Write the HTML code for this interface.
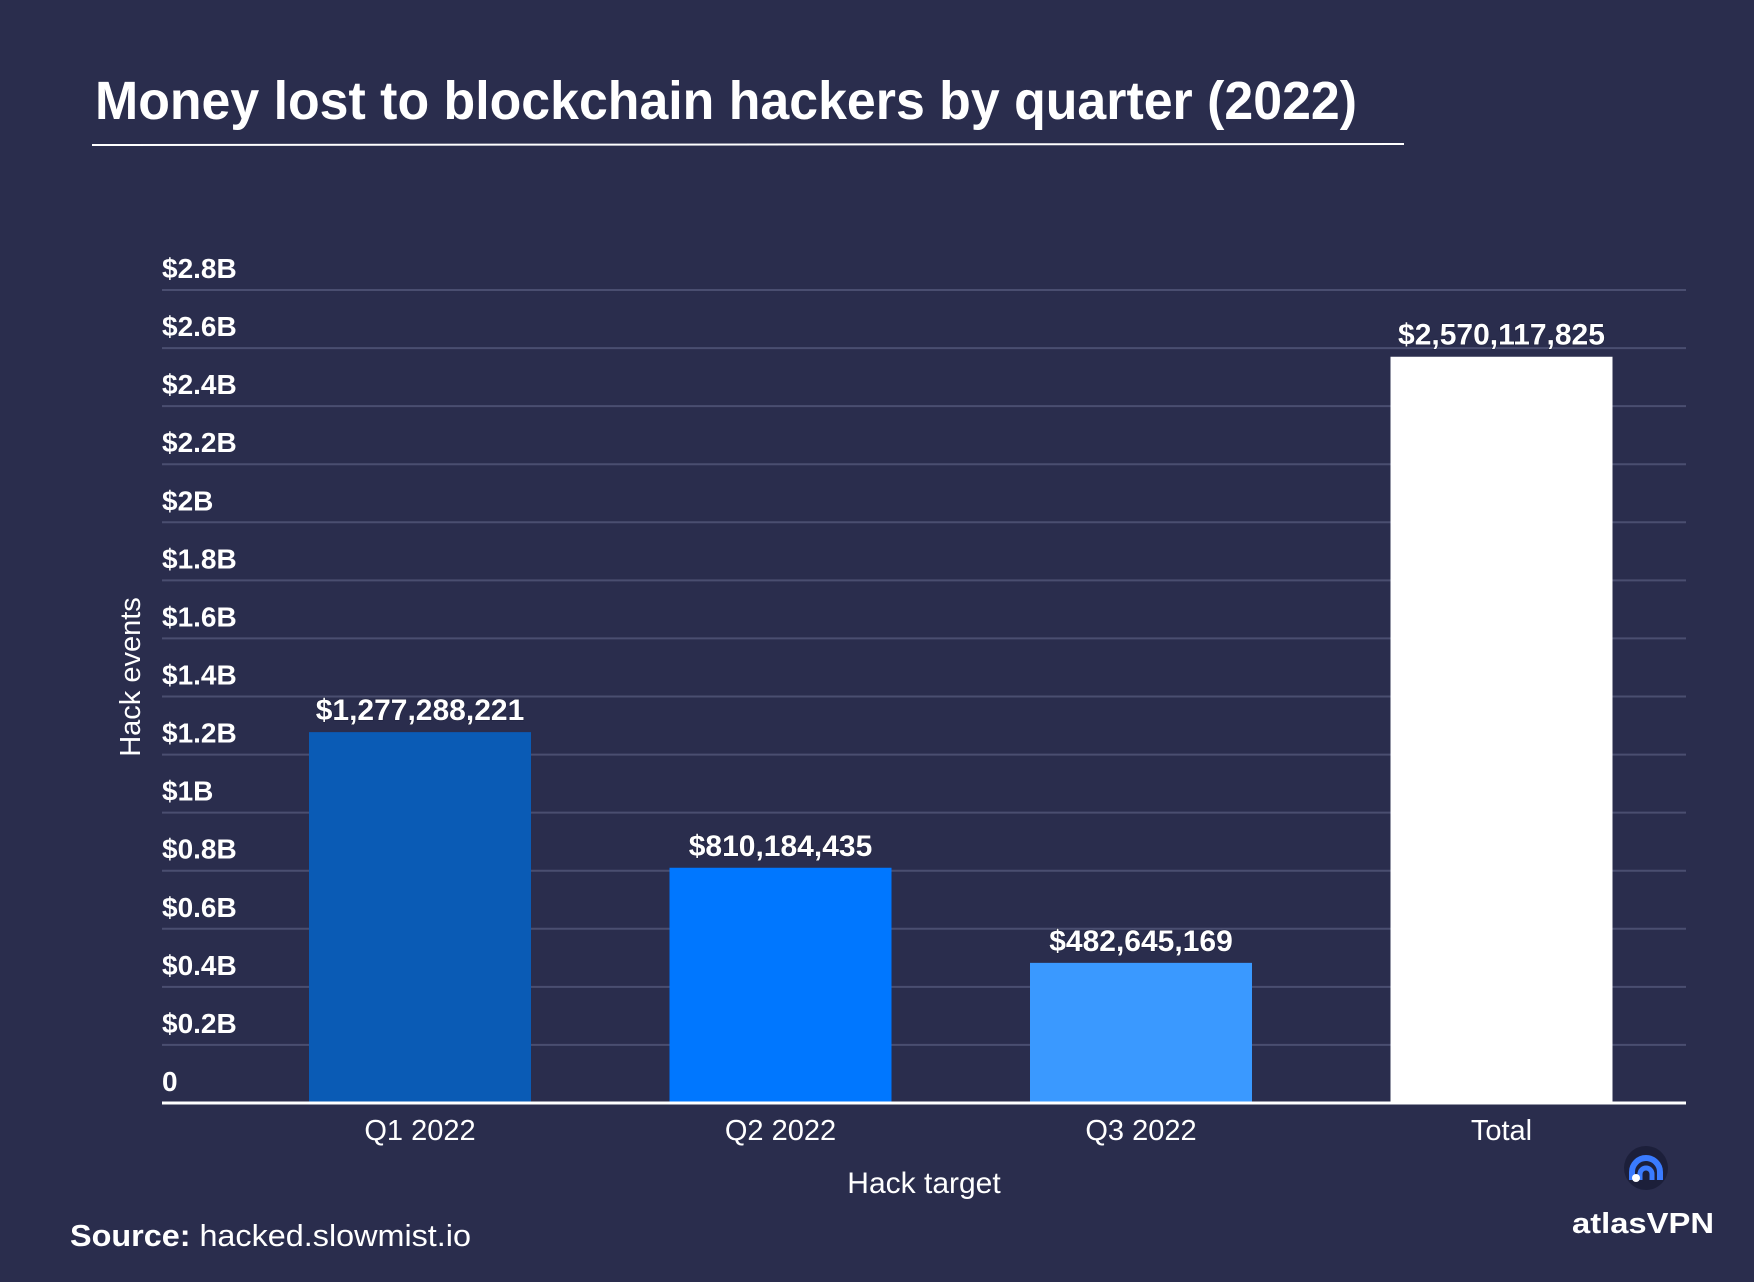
<!DOCTYPE html>
<html><head><meta charset="utf-8"><style>
html,body{margin:0;padding:0;background:#2a2d4d;}
svg{display:block;font-family:"Liberation Sans",sans-serif;}
</style></head><body>
<svg id="chart" width="1754" height="1282" viewBox="0 0 1754 1282">
<rect width="1754" height="1282" fill="#2a2d4d"/>
<text x="95" y="119" fill="#fff" font-size="54" font-weight="bold" textLength="1262" lengthAdjust="spacingAndGlyphs">Money lost to blockchain hackers by quarter (2022)</text>
<line x1="92" y1="145" x2="1404" y2="144" stroke="#fff" stroke-width="2"/>
<g id="grid"></g><g id="bars"></g>
<line x1="162" y1="1103" x2="1686" y2="1103" stroke="#fff" stroke-width="3"/>
<text transform="translate(140,677) rotate(-90)" text-anchor="middle" fill="#fff" font-size="29">Hack events</text>
<text x="924" y="1193" text-anchor="middle" fill="#fff" font-size="30">Hack target</text>
<text x="70" y="1246" fill="#fff" font-size="31" textLength="401" lengthAdjust="spacingAndGlyphs"><tspan font-weight="bold">Source:</tspan> hacked.slowmist.io</text>
<g>
<circle cx="1646" cy="1168" r="22" fill="#1c1f3a"/>
<path d="M1632 1180 v-8 a14 14 0 0 1 28 0 v8" fill="none" stroke="#3a7bff" stroke-width="6"/>
<path d="M1640 1180 v-6 a6 6 0 0 1 12 0 v6" fill="none" stroke="#3a7bff" stroke-width="5"/>
<circle cx="1636" cy="1178" r="4" fill="#fff"/>
<text x="1643" y="1233" text-anchor="middle" fill="#fff" font-size="29" font-weight="bold" textLength="142" lengthAdjust="spacingAndGlyphs">atlasVPN</text>
</g>
</svg>
<script>
const categories=["Q1 2022","Q2 2022","Q3 2022","Total"];
const values=[1277288221,810184435,482645169,2570117825];
const valueLabels=["$1,277,288,221","$810,184,435","$482,645,169","$2,570,117,825"];
const barColors=["#0a5bb5","#0077ff","#3a99ff","#ffffff"];
const tickValues=[0,0.2e9,0.4e9,0.6e9,0.8e9,1e9,1.2e9,1.4e9,1.6e9,1.8e9,2e9,2.2e9,2.4e9,2.6e9,2.8e9];
const tickLabels=["0","$0.2B","$0.4B","$0.6B","$0.8B","$1B","$1.2B","$1.4B","$1.6B","$1.8B","$2B","$2.2B","$2.4B","$2.6B","$2.8B"];
const NS="http://www.w3.org/2000/svg";
const x0=162,x1=1686,y0=1103,yTop=290,yMax=2.8e9;
function y(v){return y0-(v/yMax)*(y0-yTop);}
const step=360.5,firstCenter=420;
function xc(i){return firstCenter+step*i;}
const bw=222;
const grid=document.getElementById('grid'),bars=document.getElementById('bars');
function mk(tag,attrs,parent){const e=document.createElementNS(NS,tag);for(const k in attrs)e.setAttribute(k,attrs[k]);parent.appendChild(e);return e;}
tickValues.forEach((t,i)=>{
  if(i>0){const l=mk('line',{x1:x0,x2:x1,y1:y(t),y2:y(t),stroke:'#4a4e70','stroke-width':2},grid);
  
  }
  const tx=mk('text',{x:x0,y:y(t)-12,fill:'#fff','font-size':28,'font-weight':'bold'},grid);
  tx.textContent=tickLabels[i];
  
  
});
categories.forEach((c,i)=>{
  const r=mk('rect',{x:xc(i)-bw/2,y:y(values[i]),width:bw,height:y0-y(values[i]),fill:barColors[i]},bars);
  
  
  const vl=mk('text',{x:xc(i),y:y(values[i])-12,'text-anchor':'middle',fill:'#fff','font-size':30,'font-weight':'bold',stroke:'#1c1f3a','stroke-width':1,'paint-order':'stroke'},bars);
  vl.textContent=valueLabels[i];
  
  
  const cl=mk('text',{x:xc(i),y:1140,'text-anchor':'middle',fill:'#fff','font-size':29},bars);
  cl.textContent=c;
  
  
});
</script>
</body></html>
